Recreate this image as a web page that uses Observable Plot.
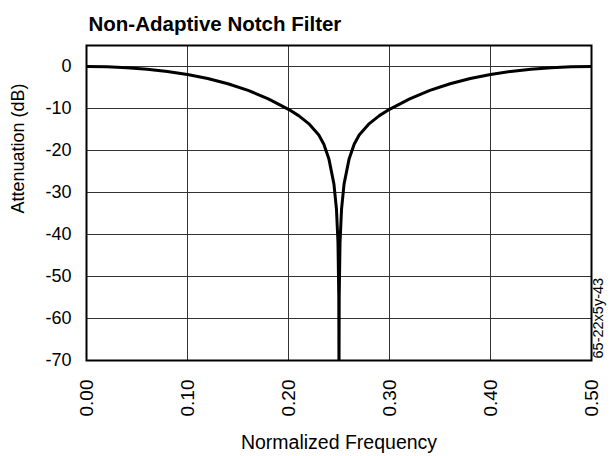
<!DOCTYPE html>
<html>
<head>
<meta charset="utf-8">
<script src="https://cdn.jsdelivr.net/npm/d3@7"></script>
<script src="https://cdn.jsdelivr.net/npm/@observablehq/plot@0.6"></script>
<style>
  html, body { margin: 0; padding: 0; background: #fff; }
</style>
</head>
<body>
<div id="chart"></div>
<script>
const title = "Non-Adaptive Notch Filter";
const xLabel = "Normalized Frequency";
const yLabel = "Attenuation (dB)";
const figId = "65-22x5y-43";
const xTicks = [0, 0.1, 0.2, 0.3, 0.4, 0.5];
const yTicks = [0, -10, -20, -30, -40, -50, -60, -70];

const freq = [0, 0.02, 0.04, 0.06, 0.08, 0.10, 0.12, 0.14, 0.16, 0.18, 0.20, 0.21, 0.22, 0.23, 0.235, 0.24, 0.245, 0.2475, 0.249, 0.2498, 0.25,
              0.2502, 0.251, 0.2525, 0.255, 0.26, 0.265, 0.27, 0.28, 0.29, 0.30, 0.32, 0.34, 0.36, 0.38, 0.40, 0.42, 0.44, 0.46, 0.48, 0.50];
const atten = [0, -0.07, -0.28, -0.64, -1.17, -1.9, -2.87, -4.1, -5.7, -7.7, -10.2, -11.7, -13.6, -16.3, -18.5, -22, -28, -34, -42, -55, -75,
               -55, -42, -34, -28, -22, -18.5, -16.3, -13.6, -11.7, -10.2, -7.7, -5.7, -4.1, -2.87, -1.9, -1.17, -0.64, -0.28, -0.07, 0];

const data = freq.map((f, i) => ({f, a: atten[i]}));
const font = "'Liberation Sans', Arial, sans-serif";

const chart = Plot.plot({
  width: 616,
  height: 456,
  marginTop: 45,
  marginLeft: 86,
  marginRight: 25,
  marginBottom: 96,
  style: {fontFamily: font, color: "#000", background: "#fff"},
  x: {domain: [0, 0.5]},
  y: {domain: [-70, 5]},
  marks: [
    Plot.gridX(xTicks.slice(1, -1), {stroke: "#333", strokeOpacity: 1, strokeWidth: 1}),
    Plot.gridY(yTicks, {stroke: "#333", strokeOpacity: 1, strokeWidth: 1}),
    Plot.line(data, {x: "f", y: "a", stroke: "#000", strokeWidth: 3, clip: true, strokeLinejoin: "round"}),
    Plot.frame({stroke: "#000", strokeWidth: 2}),
    Plot.axisY({ticks: yTicks, tickFormat: d => String(d), tickSize: 0, tickPadding: 15, fontSize: 18, label: null}),
    Plot.axisX({ticks: xTicks, tickFormat: d3.format(".2f"), tickRotate: -90, tickSize: 0, tickPadding: 19, fontSize: 19, label: null}),
    Plot.text([yLabel], {y: [-35], frameAnchor: "left", dx: -68, rotate: -90, fontSize: 18}),
    Plot.text([xLabel], {frameAnchor: "bottom", dy: 88, fontSize: 19.5}),
    Plot.text([title], {frameAnchor: "top-left", dx: 2, dy: -29, textAnchor: "start", fontSize: 20.5, fontWeight: "bold"}),
    Plot.text([figId], {frameAnchor: "bottom-right", dx: 11, dy: -2, rotate: -90, textAnchor: "start", fontSize: 14.5})
  ]
});
document.getElementById("chart").appendChild(chart);
</script>
</body>
</html>
